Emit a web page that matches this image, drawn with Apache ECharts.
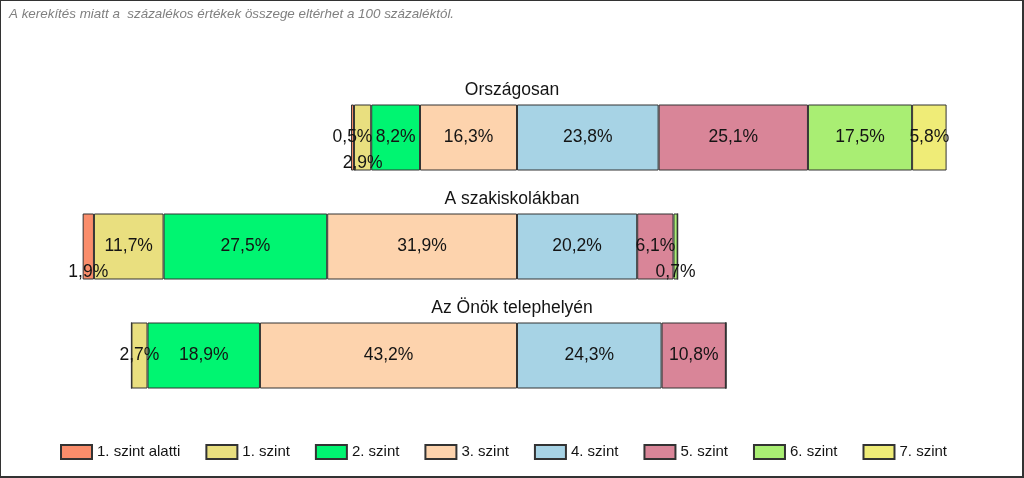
<!DOCTYPE html>
<html><head><meta charset="utf-8">
<script src="https://cdn.jsdelivr.net/npm/echarts@6/dist/echarts.min.js"></script>
<style>
html,body{margin:0;padding:0;background:#fff;}
#chart{position:absolute;left:0;top:0;width:1024px;height:478px;}
#frame{position:absolute;left:0;top:0;width:1024px;height:478px;box-sizing:border-box;border:1px solid #333;border-right-width:2px;border-bottom-width:2px;pointer-events:none;}
</style></head><body>
<div id="chart"></div><div id="frame"></div>
<script>
const note = 'A kerekítés miatt a  százalékos értékek összege eltérhet a 100 százaléktól.';
const categories = ['Országosan', 'A szakiskolákban', 'Az Önök telephelyén'];
const levels = ['1. szint alatti', '1. szint', '2. szint', '3. szint', '4. szint', '5. szint', '6. szint', '7. szint'];
const szintAlatti = [0.5, 1.9, 0];
const szint1 = [2.9, 11.7, 2.7];
const szint2 = [8.2, 27.5, 18.9];
const szint3 = [16.3, 31.9, 43.2];
const szint4 = [23.8, 20.2, 24.3];
const szint5 = [25.1, 6.1, 10.8];
const szint6 = [17.5, 0.7, 0];
const szint7 = [5.8, 0, 0];

const values = [szintAlatti, szint1, szint2, szint3, szint4, szint5, szint6, szint7];
const colors = ['#FA8D6B', '#E9DF7F', '#00F571', '#FDD3AD', '#A7D3E5', '#D98598', '#A9EE73', '#EFEC77'];
// labels that the original shows pushed below the bar centre (series index -> category indices)
const lowered = {1: [0], 0: [1], 6: [1]};

const offset = categories.map((c, i) => -(szintAlatti[i] + szint1[i] + szint2[i] + szint3[i]));
const FONT = '"Liberation Sans", Arial, sans-serif';

const series = [{
  name: '_offset', type: 'bar', stack: 'all', stackStrategy: 'all', silent: true,
  barWidth: 66, itemStyle: {color: 'rgba(0,0,0,0)', borderWidth: 0},
  label: {show: false}, data: offset
}];
levels.forEach((lv, s) => {
  series.push({
    name: lv, type: 'bar', stack: 'all', stackStrategy: 'all', barWidth: 66,
    itemStyle: {color: colors[s], borderColor: '#333333', borderWidth: 1},
    label: {
      show: true, position: 'inside', color: '#141414', fontSize: 17.5, fontFamily: FONT,
      formatter: p => p.value ? p.value.toFixed(1).replace('.', ',') + '%' : ''
    },
    data: values[s].map((v, i) => {
      const item = {value: v};
      if (lowered[s] && lowered[s].includes(i)) item.label = {offset: [0, 26]};
      return item;
    })
  });
});

const chart = echarts.init(document.getElementById('chart'), null, {renderer: 'canvas'});
chart.setOption({
  animation: false,
  title: {
    text: note, left: 4, top: 3,
    textStyle: {fontSize: 13.4, fontStyle: 'italic', fontWeight: 'normal', color: '#808080', fontFamily: FONT}
  },
  legend: {
    data: levels, left: 55, top: 439, itemWidth: 31, itemHeight: 14, itemGap: 25, icon: 'rect',
    textStyle: {fontSize: 15, color: '#141414', fontFamily: FONT}
  },
  grid: {left: 70.75, right: 60.75, top: 83, bottom: 68},
  xAxis: {type: 'value', min: -75, max: 75, show: false},
  yAxis: {type: 'category', data: categories, inverse: true, show: false},
  series: series
});

const titles = categories.map(c => {
  const y = chart.convertToPixel({yAxisIndex: 0}, c);
  return {
    type: 'text', left: 'center', top: y - 56,
    style: {text: c, fontSize: 17.5, fontFamily: FONT, fill: '#141414'}
  };
});
chart.setOption({graphic: titles});
</script>
</body></html>
